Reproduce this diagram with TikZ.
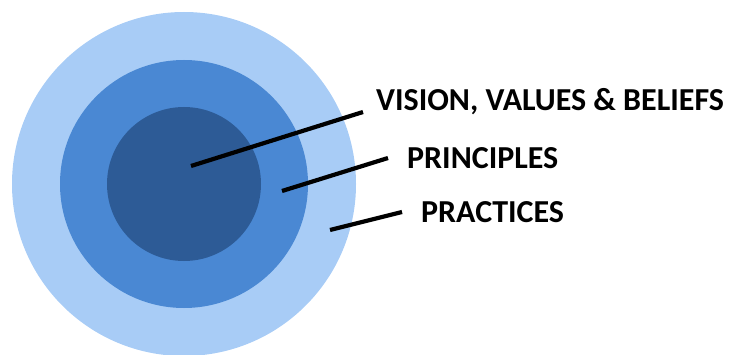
\documentclass[tikz,border=0pt]{standalone}
\usepackage{fontspec}
\setmainfont{Carlito}
\usepackage{tikz}
\usetikzlibrary{positioning}

\definecolor{ringout}{HTML}{A8CCF6}
\definecolor{ringmid}{HTML}{4A88D3}
\definecolor{ringin}{HTML}{2D5B96}

\begin{document}
\begin{tikzpicture}[x=1pt, y=1pt,
        ring/.style={circle, draw=none, inner sep=0pt},
        tag/.style={anchor=base west, inner sep=0pt, font=\fontsize{32}{38}\selectfont\bfseries},
        pointer/.style={line width=4.2pt, black}]
        \useasboundingbox (0,0) rectangle (741,354);
        \foreach \r/\c/\n in {172/ringout/outer, 124/ringmid/middle, 77/ringin/core}
            \node[ring, fill=\c, minimum size=2*\r pt] (\n) at (184,170) {};
        \node[tag] (vision) at (376,243) {VISION, VALUES \& BELIEFS};
        \node[tag] (principles) at (407,186) {PRINCIPLES};
        \node[tag] (practices) at (421,132) {PRACTICES};
        \coordinate (p1) at (191,188);
        \coordinate (p2) at (282,163);
        \coordinate (p3) at (330,124);
        \draw[pointer] (p1) -- ([xshift=-13pt,yshift=-1pt]vision.base west);
        \draw[pointer] (p2) -- ([xshift=-19pt,yshift=10pt]principles.base west);
        \draw[pointer] (p3) -- ([xshift=-19pt,yshift=10pt]practices.base west);
    \end{tikzpicture}
\end{document}
